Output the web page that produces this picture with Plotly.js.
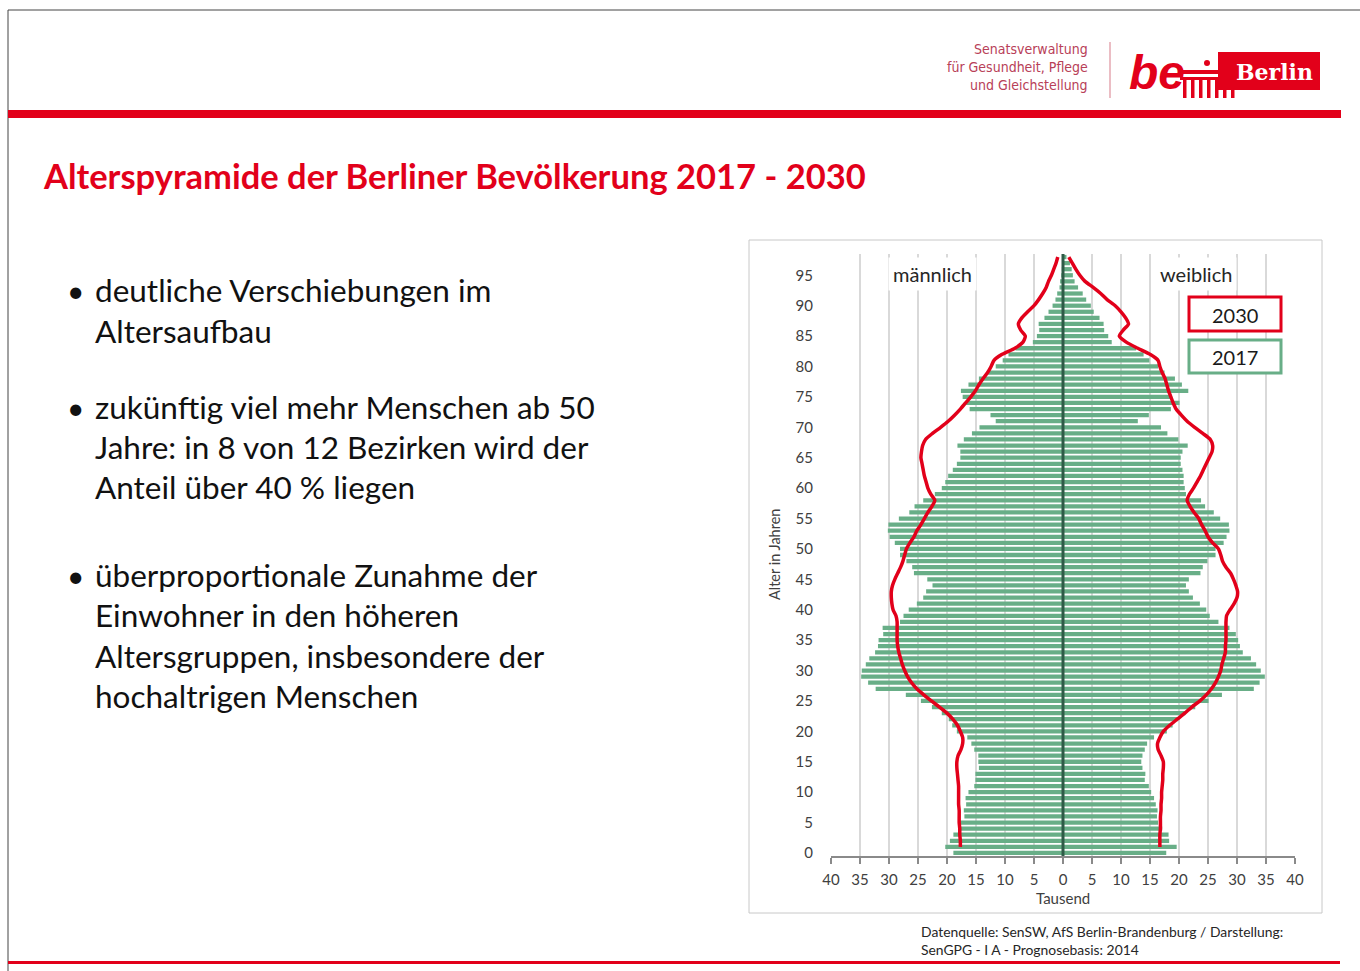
<!DOCTYPE html>
<html>
<head>
<meta charset="utf-8">
<script src="https://cdn.plot.ly/plotly-3.0.1.min.js"></script>
<style>
html,body{margin:0;padding:0;background:#fff;}
#chart{width:1360px;height:971px;}
</style>
</head>
<body>
<div id="chart"></div>
<script>
// ---------- DATA ----------
// Age categories (years) for the 2017 bars
const ages2017 = Array.from({length: 99}, (_, i) => i); // 0 .. 98
// Age positions for the 2030 projection lines
const ages2030 = Array.from({length: 98}, (_, i) => i + 1); // 1 .. 98

// 2017, in thousands
const male2017 = [
  18.9,20.3,19.5,18.9,18.1,18.0,17.0,17.1,16.7,16.8,
  16.3,15.3,15.1,15.1,14.5,14.6,14.6,15.3,15.8,16.5,
  18.3,19.1,19.7,20.9,22.6,24.5,27.1,32.3,33.6,34.8,
  34.7,34.0,33.4,32.4,31.9,31.8,31.0,31.1,28.1,27.5,
  26.6,25.2,24.1,23.6,22.5,23.4,25.7,26.0,27.0,28.1,
  28.1,29.0,29.9,30.2,30.1,28.3,26.5,25.6,24.1,22.1,
  20.9,20.3,19.8,19.0,18.3,17.7,17.7,18.2,17.1,15.7,
  14.4,11.6,12.5,16.1,16.8,17.3,17.6,16.3,14.5,13.0,
  11.6,10.4,9.4,8.2,5.2,4.5,4.1,4.2,3.2,2.5,
  1.8,1.3,1.0,0.6,0.5,0.3,0.2,0.1,0.1
];
const female2017 = [
  17.8,19.6,18.3,18.2,17.1,16.4,16.2,16.3,16.0,15.7,
  15.2,14.8,14.1,14.2,13.7,13.5,13.7,14.1,14.5,15.7,
  17.9,18.9,19.8,21.1,22.8,25.1,27.4,32.9,33.9,34.8,
  34.1,33.3,32.4,31.0,30.5,30.2,29.8,28.7,26.8,25.3,
  24.7,23.6,22.4,21.7,21.2,21.7,23.7,24.1,24.9,26.3,
  26.3,27.7,28.2,28.7,28.6,27.1,26.0,24.5,23.8,21.2,
  21.0,20.8,20.8,20.6,20.3,20.3,20.6,21.5,19.9,18.0,
  16.9,12.9,14.8,18.6,20.1,18.8,21.6,20.5,19.3,17.5,
  16.4,14.9,13.9,12.6,8.4,7.8,7.1,7.0,6.3,5.3,
  4.8,4.0,3.4,2.6,2.0,1.7,1.5,1.2,0.6
];
// 2030 projection, in thousands (ages 1..98)
const male2030 = [
  17.7,17.7,17.8,17.8,17.9,17.9,17.9,18.0,18.0,18.0,
  18.0,18.1,18.2,18.3,18.3,18.1,17.6,17.3,17.3,17.7,
  18.2,19.0,20.0,21.3,22.7,24.0,25.2,26.1,26.8,27.3,
  27.7,28.0,28.3,28.5,28.6,28.6,28.6,28.6,28.8,29.3,
  29.5,29.6,29.6,29.4,29.0,28.5,28.0,27.6,27.3,27.0,
  26.4,25.7,25.2,24.5,23.9,23.3,22.6,22.1,22.8,23.3,
  23.6,23.9,24.1,24.3,24.5,24.4,24.2,23.7,22.5,21.1,
  19.8,18.7,17.7,16.8,15.9,15.1,14.5,13.8,13.0,12.4,
  11.9,10.5,8.3,6.9,6.5,7.3,7.7,7.1,6.1,5.0,
  4.2,3.5,2.9,2.5,2.0,1.6,1.2,0.9
];
const female2030 = [
  16.7,16.7,16.7,16.8,16.8,16.8,16.9,16.9,17.0,17.0,
  17.1,17.2,17.2,17.3,17.3,16.9,16.4,16.3,16.7,17.3,
  18.4,19.7,21.0,22.2,23.6,24.7,25.6,26.3,26.8,27.2,
  27.4,27.7,28.0,28.0,28.1,28.1,28.1,28.1,28.2,28.8,
  29.5,30.0,30.1,29.8,29.4,28.9,28.1,27.5,27.2,26.8,
  25.8,25.0,24.5,23.9,23.4,22.6,21.9,21.4,21.8,22.5,
  23.1,23.7,24.2,24.7,25.2,25.7,25.8,25.4,24.1,22.7,
  21.4,20.4,19.5,19.0,18.6,18.2,17.9,17.6,17.1,16.7,
  16.4,15.0,12.9,10.9,9.7,10.4,11.3,10.8,10.0,9.0,
  7.6,6.5,5.2,3.8,2.9,2.2,1.6,1.0
];

// tick labels
const xTickVals = [-40,-35,-30,-25,-20,-15,-10,-5,0,5,10,15,20,25,30,35,40];
const xTickText = ['40','35','30','25','20','15','10','5','0','5','10','15','20','25','30','35','40'];
const yTickVals = [0,5,10,15,20,25,30,35,40,45,50,55,60,65,70,75,80,85,90,95];

const bulletLines = [
  ['deutliche Verschiebungen im', 'Altersaufbau'],
  ['zukünftig viel mehr Menschen ab 50', 'Jahre: in 8 von 12 Bezirken wird der', 'Anteil über 40 % liegen'],
  ['überproportionale Zunahme der', 'Einwohner in den höheren', 'Altersgruppen, insbesondere der', 'hochaltrigen Menschen']
];

// ---------- STYLE / LAYOUT ----------
const RED = '#e2001a';
const GREEN = '#68ae87';
const DARKGREEN = '#2e5b47';
const FONT = 'Lato, "Open Sans", sans-serif';
const L = 831, T = 254, W = 464, H = 602, FIGW = 1360, FIGH = 971;
const px = x => (x - L) / W;
const py = y => (T + H - y) / H;

const traces = [
  {type:'bar', orientation:'h', y: ages2017, x: male2017.map(v => -v),
   marker:{color: GREEN}, hoverinfo:'skip'},
  {type:'bar', orientation:'h', y: ages2017, x: female2017,
   marker:{color: GREEN}, hoverinfo:'skip'},
  {type:'scatter', mode:'lines', y: ages2030, x: male2030.map(v => -v),
   line:{color: RED, width: 3.5, shape:'spline', smoothing: 0.6}, hoverinfo:'skip'},
  {type:'scatter', mode:'lines', y: ages2030, x: female2030,
   line:{color: RED, width: 3.5, shape:'spline', smoothing: 0.6}, hoverinfo:'skip'}
];

function ann(x, y, text, opts) {
  return Object.assign({xref:'paper', yref:'paper', x: px(x), y: py(y), text: text,
    showarrow:false, xanchor:'left', yanchor:'middle',
    font:{family: FONT, size: 14, color:'#262626'}}, opts || {});
}
function rect(x0, y0, x1, y1, opts) {
  return Object.assign({type:'rect', xref:'paper', yref:'paper',
    x0: px(x0), x1: px(x1), y0: py(y0), y1: py(y1)}, opts);
}
function line(x0, y0, x1, y1, color, width) {
  return {type:'line', xref:'paper', yref:'paper', x0: px(x0), x1: px(x1), y0: py(y0), y1: py(y1),
    line:{color: color, width: width}};
}

const annotations = [];
const shapes = [];

// slide frame
shapes.push(line(8, 10, 1360, 10, '#444', 1));
shapes.push(line(8, 10, 8, 971, '#444', 1));
// red bars
shapes.push(rect(8, 110, 1341, 118, {fillcolor: RED, line:{width:0}}));
shapes.push(rect(8, 961, 1340, 964, {fillcolor: RED, line:{width:0}}));
// chart frame
shapes.push(rect(749, 240, 1322, 913, {line:{color:'#c8c8c8', width:1}, fillcolor:'rgba(0,0,0,0)'}));
// center line
shapes.push({type:'line', xref:'x', yref:'paper', x0:0, x1:0, y0:0, y1:1,
  line:{color: DARKGREEN, width: 3}, layer:'above'});
// legend boxes
shapes.push(rect(1189, 297, 1281, 331, {line:{color: RED, width:3}, fillcolor:'#fff'}));
shapes.push(rect(1189, 340, 1281, 373, {line:{color: GREEN, width:3}, fillcolor:'#fff'}));
annotations.push(ann(1235, 315, '2030', {xanchor:'center', font:{family: FONT, size: 20, color:'#1a1a1a'}}));
annotations.push(ann(1235, 357, '2017', {xanchor:'center', font:{family: FONT, size: 20, color:'#1a1a1a'}}));

// sex labels
annotations.push(ann(932, 274, 'männlich', {xanchor:'center', bgcolor:'#fff', borderpad: 4,
  font:{family: FONT, size: 20, color:'#262626'}}));
annotations.push(ann(1196, 274, 'weiblich', {xanchor:'center', bgcolor:'#fff', borderpad: 4,
  font:{family: FONT, size: 20, color:'#262626'}}));

// axis titles
annotations.push(ann(774, 555, 'Alter in Jahren', {xanchor:'center', textangle:-90,
  font:{family: FONT, size: 14.5, color:'#404040'}}));
annotations.push(ann(1063, 898, 'Tausend', {xanchor:'center',
  font:{family: FONT, size: 15, color:'#404040'}}));

// title
annotations.push(ann(41, 175, '<b>Alterspyramide der Berliner Bevölkerung 2017 - 2030</b>',
  {font:{family: FONT, size: 34.5, color: RED}}));

// bullets
const bulletY = [[290, 331], [407, 447, 487], [575, 615, 656, 696]];
bulletLines.forEach((lines, i) => {
  annotations.push(ann(65, bulletY[i][0], '•', {font:{family: FONT, size: 30, color:'#111'}}));
  lines.forEach((t, j) => {
    annotations.push(ann(93, bulletY[i][j], t, {font:{family: FONT, size: 31.5, color:'#111'}}));
  });
});

// footer
annotations.push(ann(919, 931, 'Datenquelle: SenSW, AfS Berlin-Brandenburg / Darstellung:',
  {font:{family: FONT, size: 13.9, color:'#262626'}}));
annotations.push(ann(919, 949, 'SenGPG - I A - Prognosebasis: 2014',
  {font:{family: FONT, size: 13.9, color:'#262626'}}));

// logo
const LOGOTXT = '#b84058';
['Senatsverwaltung', 'für Gesundheit, Pflege', 'und Gleichstellung'].forEach((t, i) => {
  annotations.push(ann(1090, 49 + i * 18, t, {xanchor:'right',
    font:{family:'"Liberation Sans Narrow", "DejaVu Sans Condensed", sans-serif', size: 14, color: LOGOTXT}}));
});
shapes.push(line(1110, 42, 1110, 98, '#e4a7b1', 1.5));
annotations.push(ann(1127, 73, '<b><i>be</i></b>', {font:{family:'"Liberation Sans", sans-serif', size: 48, color: RED}}));
// Brandenburg gate symbol
shapes.push(rect(1180, 70, 1232, 74, {fillcolor: RED, line:{width:0}}));
shapes.push({type:'circle', xref:'paper', yref:'paper', x0: px(1204), x1: px(1210), y0: py(60), y1: py(66),
  fillcolor: RED, line:{width:0}});
[1183, 1191, 1199, 1207, 1215, 1223, 1231].forEach(x => {
  shapes.push(rect(x, 79, x + 3.5, 98, {fillcolor: RED, line:{width:0}}));
});
shapes.push(rect(1180, 77, 1234, 80, {fillcolor: RED, line:{width:0}}));
shapes.push(rect(1218, 52, 1320, 90, {fillcolor: RED, line:{width:0}}));
annotations.push(ann(1274, 72, '<b>Berlin</b>', {xanchor:'center',
  font:{family:'"DejaVu Serif", "Liberation Serif", serif', size: 22, color:'#fff'}}));

const layout = {
  width: FIGW, height: FIGH, autosize: false,
  margin: {l: L, r: FIGW - L - W, t: T, b: FIGH - T - H, pad: 0},
  paper_bgcolor: '#fff', plot_bgcolor: '#fff',
  showlegend: false, barmode: 'overlay', bargap: 0.3,
  font: {family: FONT, color: '#404040'},
  xaxis: {range: [-40, 40], tickvals: xTickVals, ticktext: xTickText,
    showgrid: true, gridcolor: '#d9d9d9', gridwidth: 2, zeroline: false,
    showline: true, linecolor: '#8a8a8a', linewidth: 2,
    ticks: 'outside', ticklen: 6, tickcolor: '#8a8a8a', tickwidth: 2, ticklabelstandoff: 3,
    tickfont: {family: FONT, size: 15, color: '#404040'}, fixedrange: true},
  yaxis: {range: [-0.5, 98.5], tickvals: yTickVals, showgrid: false, zeroline: false,
    showline: false, ticks: '', ticklabelstandoff: 17,
    tickfont: {family: FONT, size: 15, color: '#404040'}, fixedrange: true},
  shapes: shapes, annotations: annotations
};

Plotly.newPlot('chart', traces, layout, {staticPlot: true, displayModeBar: false});
</script>
</body>
</html>
